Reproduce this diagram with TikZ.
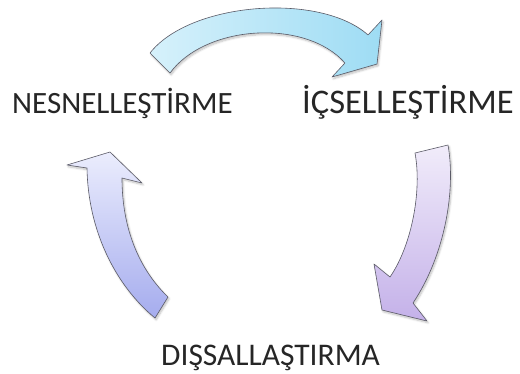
\documentclass[tikz,border=0pt]{standalone}
\usepackage{fontspec}
\setmainfont{Carlito}
\usetikzlibrary{shadows.blur}
\definecolor{outl}{HTML}{5A5A66}
\definecolor{cyanL}{HTML}{D6F1FB}
\definecolor{cyanD}{HTML}{9EDCF4}
\definecolor{lavL}{HTML}{F1ECFA}
\definecolor{lavD}{HTML}{C4B1E9}
\definecolor{perL}{HTML}{EBEDFD}
\definecolor{perD}{HTML}{A5ACEE}
\tikzset{
  arrowshape/.style={draw=outl, line width=0.6pt, line join=round,
    blur shadow={shadow xshift=1.2pt, shadow yshift=-1.8pt, shadow blur steps=6, shadow opacity=25}},
  lbl/.style={inner sep=0pt, text=black!85}
}
\begin{document}
\begin{tikzpicture}[x=1pt,y=-1pt]
\useasboundingbox (0,0) rectangle (520,374);
% top arrow
\path[arrowshape, left color=cyanL, right color=cyanD]
  (150,53) .. controls (190,2) and (320,-8) .. (368,35)
  -- (382,20) -- (377,64) -- (332,77) -- (345,63)
  .. controls (305,18) and (205,25) .. (170,73) -- cycle;
% right arrow
\path[arrowshape, top color=lavL, bottom color=lavD]
  (415,153) -- (448,145) .. controls (456,190) and (445,255) .. (413,303)
  -- (427,321) -- (382,310) -- (374,264) -- (390,277)
  .. controls (412,245) and (422,190) .. (415,153) -- cycle;
% left arrow
\path[arrowshape, top color=perL, bottom color=perD]
  (155,318) -- (168,297) .. controls (140,270) and (122,230) .. (122,178)
  -- (142,183) -- (110,152) -- (67,165) -- (87,168)
  .. controls (88,230) and (115,285) .. (155,318) -- cycle;
\node[lbl, anchor=base west, font=\fontsize{31}{33}\selectfont] (nes) at (12,114) {NESNELLEŞTİRME};
\node[lbl, anchor=base west, font=\fontsize{34.5}{36}\selectfont] (ics) at (302,114) {İÇSELLEŞTİRME};
\node[lbl, anchor=base west, font=\fontsize{31.5}{33}\selectfont] (dis) at (161,366) {DIŞSALLAŞTIRMA};
\end{tikzpicture}
\end{document}
